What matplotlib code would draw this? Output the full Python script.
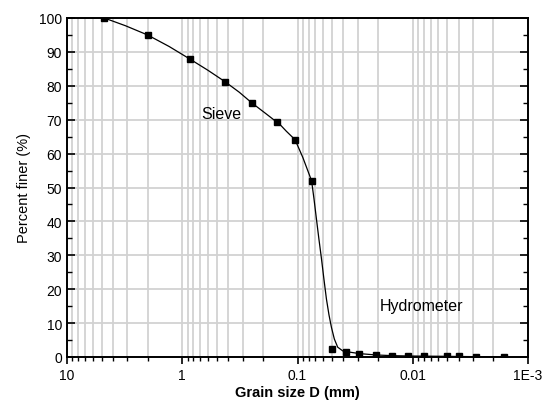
import matplotlib
matplotlib.use("Agg")
import matplotlib.pyplot as plt
from matplotlib.ticker import LogLocator, NullFormatter, FixedLocator, MultipleLocator

plt.rcParams['font.family'] = ['Liberation Sans', 'DejaVu Sans']

# measured points: grain size (mm) and percent finer
grain_size = [4.75, 2.0, 0.85, 0.425, 0.25, 0.15, 0.106, 0.075,
              0.050, 0.038, 0.029, 0.0208, 0.015, 0.0109, 0.0080,
              0.0050, 0.0040, 0.0028, 0.0016]
pct_finer = [100.0, 95.0, 87.8, 81.2, 75.0, 69.2, 64.0, 52.0,
             2.3, 1.6, 1.0, 0.6, 0.4, 0.3, 0.3,
             0.2, 0.2, 0.1, 0.1]

# fitted curve
curve_d = [4.75, 3.1, 2.0, 1.3, 0.85, 0.6, 0.425, 0.32, 0.25, 0.19,
           0.15, 0.143, 0.125, 0.105, 0.090, 0.0755, 0.0719, 0.0685,
           0.0652, 0.0619, 0.0590, 0.0561, 0.0533, 0.0508, 0.0479,
           0.0448, 0.0405, 0.038, 0.029, 0.0208, 0.015, 0.0109, 0.008,
           0.005, 0.004, 0.0028, 0.0016]
curve_p = [100.0, 97.7, 95.0, 91.6, 87.8, 84.6, 81.2, 78.1, 75.0, 71.9,
           69.2, 68.7, 66.6, 64.1, 58.9, 52.0, 46.6, 40.7,
           34.8, 28.9, 23.0, 17.1, 12.4, 8.8, 5.3,
           2.9, 1.8, 1.6, 1.0, 0.6, 0.4, 0.3, 0.25,
           0.2, 0.15, 0.1, 0.1]

xtick_vals = [10, 1, 0.1, 0.01, 0.001]
xtick_labels = ['10', '1', '0.1', '0.01', '1E-3']

fig = plt.figure(figsize=(5.51, 4.10), dpi=100)
ax = fig.add_axes([67/551, 52/410, 461/551, 339/410])

ax.plot(curve_d, curve_p, color='black', lw=0.9, zorder=3)
ax.plot(grain_size, pct_finer, 's', color='black', ms=4.3, zorder=4)

ax.set_xscale('log')
ax.set_xlim(10, 0.001)
ax.set_ylim(0, 100)

ax.xaxis.set_major_locator(FixedLocator(xtick_vals))
ax.set_xticklabels(xtick_labels)
ax.xaxis.set_minor_locator(LogLocator(base=10, subs=range(2, 10), numticks=20))
ax.xaxis.set_minor_formatter(NullFormatter())
ax.yaxis.set_major_locator(MultipleLocator(10))
ax.yaxis.set_minor_locator(MultipleLocator(5))

ax.grid(True, which='major', axis='both', color='#d2d2d2', lw=1.3, zorder=0)
ax.grid(True, which='minor', axis='x', color='#d2d2d2', lw=1.3, zorder=0)
ax.set_axisbelow(True)

ax.tick_params(axis='x', which='major', direction='out', length=5, width=1.2,
               labelsize=10, pad=3)
ax.tick_params(axis='x', which='minor', direction='out', length=3, width=1.0)
ax.tick_params(axis='y', which='major', direction='in', length=6, width=1.2,
               left=True, right=True, labelsize=10)
ax.tick_params(axis='y', which='minor', direction='in', length=3.5, width=1.0,
               left=True, right=True)

for s in ax.spines.values():
    s.set_linewidth(1.4)

ax.text(0.455, 71.7, 'Sieve', fontsize=11.5, ha='center', va='center')
ax.text(0.00835, 15.3, 'Hydrometer', fontsize=11.5, ha='center', va='center')

ax.set_xlabel('Grain size D (mm)', fontsize=10.5, fontweight='bold', labelpad=2)
ax.set_ylabel('Percent finer (%)', fontsize=10.5, labelpad=6)

fig.savefig('out.png', dpi=100)
